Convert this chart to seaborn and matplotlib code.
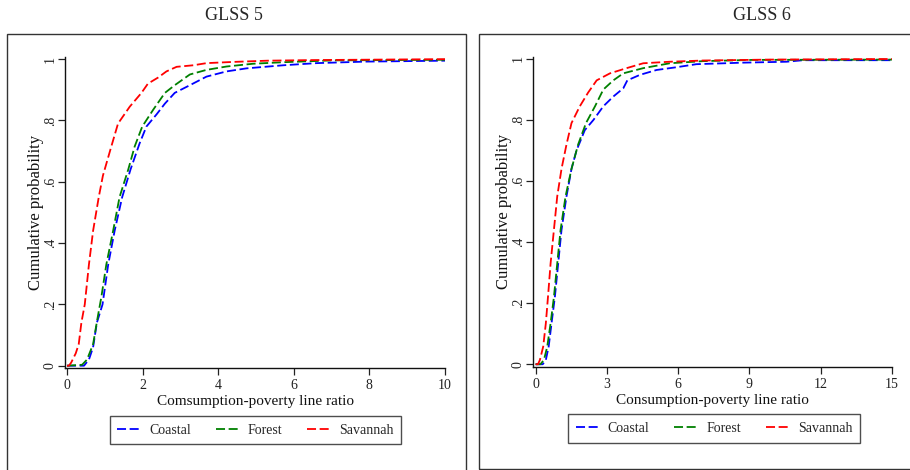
import pandas as pd
import seaborn as sns
import matplotlib.pyplot as plt
from matplotlib.patches import Rectangle

# GLSS 5 - CDF points (ratio, cumulative prob)
g5_coastal_x = [0.0, 0.45, 0.58, 0.69, 0.79, 0.94, 1.09, 1.26, 1.46, 1.68, 1.92, 2.1, 2.37, 2.59,
                2.85, 3.25, 3.69, 4.22, 4.75, 5.72, 6.6, 7.9, 10.0]
g5_coastal_p = [0.0, 0.0, 0.02, 0.06, 0.14, 0.2, 0.33, 0.44, 0.55, 0.64, 0.725, 0.78, 0.82, 0.855,
                0.89, 0.915, 0.943, 0.96, 0.97, 0.98, 0.987, 0.992, 0.995]
g5_forest_x = [0.0, 0.4, 0.53, 0.69, 0.8, 0.91, 1.04, 1.22, 1.39, 1.62, 1.79, 1.99, 2.28, 2.59,
               2.85, 3.25, 3.69, 4.22, 4.92, 5.72, 7.04, 10.0]
g5_forest_p = [0.0, 0.003, 0.02, 0.07, 0.15, 0.225, 0.33, 0.44, 0.55, 0.64, 0.715, 0.78, 0.835, 0.89,
               0.915, 0.95, 0.965, 0.976, 0.985, 0.99, 0.996, 0.998]
g5_savannah_x = [0.0, 0.05, 0.11, 0.23, 0.31, 0.38, 0.47, 0.58, 0.69, 0.84, 0.95, 1.16, 1.35, 1.66,
                 1.97, 2.14, 2.41, 2.63, 2.9, 3.34, 3.69, 4.4, 5.3, 6.5, 10.0]
g5_savannah_p = [0.0, 0.0, 0.01, 0.04, 0.07, 0.14, 0.2, 0.33, 0.44, 0.55, 0.62, 0.71, 0.79, 0.845,
                 0.89, 0.92, 0.94, 0.96, 0.975, 0.98, 0.987, 0.991, 0.995, 0.997, 1.0]

# GLSS 6
g6_coastal_x = [0.0, 0.3, 0.43, 0.55, 0.67, 0.81, 0.95, 1.09, 1.3, 1.51, 1.72, 2.07, 2.43, 2.85,
                3.27, 3.69, 3.86, 4.39, 5.09, 5.93, 6.77, 8.73, 10.56, 11.26, 15.0]
g6_coastal_p = [0.0, 0.0, 0.014, 0.058, 0.134, 0.22, 0.33, 0.44, 0.55, 0.64, 0.70, 0.767, 0.80, 0.845,
                0.877, 0.904, 0.93, 0.948, 0.964, 0.973, 0.983, 0.988, 0.991, 0.996, 0.996]
g6_forest_x = [0.0, 0.2, 0.35, 0.49, 0.63, 0.77, 0.91, 1.05, 1.26, 1.51, 1.79, 2.12, 2.5, 2.85,
               3.27, 3.69, 4.53, 5.65, 7.05, 9.15, 15.0]
g6_forest_p = [0.0, 0.0, 0.014, 0.058, 0.134, 0.22, 0.33, 0.44, 0.55, 0.64, 0.72, 0.79, 0.845, 0.9,
               0.93, 0.953, 0.97, 0.986, 0.993, 0.997, 0.998]
g6_savannah_x = [0.0, 0.1, 0.18, 0.32, 0.43, 0.52, 0.63, 0.77, 0.91, 1.09, 1.3, 1.51, 1.86, 2.21,
                 2.57, 3.13, 3.83, 4.53, 5.65, 7.05, 9.86, 15.0]
g6_savannah_p = [0.0, 0.0, 0.014, 0.058, 0.134, 0.22, 0.33, 0.44, 0.55, 0.64, 0.72, 0.79, 0.845, 0.89,
                 0.93, 0.953, 0.97, 0.986, 0.991, 0.995, 0.998, 1.0]

regions = ['Coastal', 'Forest', 'Savannah']
colors = {'Coastal': '#0000ff', 'Forest': '#008000', 'Savannah': '#ff0000'}
y_ticks = [0, 0.2, 0.4, 0.6, 0.8, 1]
y_labels = ['0', '.2', '.4', '.6', '.8', '1']


def to_df(xs, ps):
    frames = []
    for reg, x, p in zip(regions, xs, ps):
        frames.append(pd.DataFrame({'ratio': x, 'cdf': p, 'region': reg}))
    return pd.concat(frames, ignore_index=True)


df5 = to_df([g5_coastal_x, g5_forest_x, g5_savannah_x], [g5_coastal_p, g5_forest_p, g5_savannah_p])
df6 = to_df([g6_coastal_x, g6_forest_x, g6_savannah_x], [g6_coastal_p, g6_forest_p, g6_savannah_p])


def main() -> None:
    sns.set_theme(style='ticks')
    plt.rcParams['font.family'] = ['Liberation Serif', 'DejaVu Serif']
    W, H = 910, 470
    fig = plt.figure(figsize=(9.1, 4.7), dpi=100)

    # panel frames (pixel coords, y from top)
    for x0, y0, x1, y1 in [(7, 34, 465.5, 472), (478.5, 34, 915, 469)]:
        fig.patches.append(Rectangle((x0 / W, 1 - y1 / H), (x1 - x0) / W, (y1 - y0) / H,
                                     transform=fig.transFigure, fill=False,
                                     edgecolor='#333333', linewidth=1.0))

    fig.text(234 / W, 1 - 16 / H, 'GLSS 5', ha='center', va='center', fontsize=13)
    fig.text(762 / W, 1 - 16 / H, 'GLSS 6', ha='center', va='center', fontsize=13)

    panels = [
        dict(df=df5, rect=(65, 56.7, 445, 368), xlim=(-0.053, 10), xticks=[0, 2, 4, 6, 8, 10],
             ylim=(-0.0075, 1.008), xlabel='Comsumption-poverty line ratio', leg=(255.5, 430)),
        dict(df=df6, rect=(533, 56.7, 892, 366.7), xlim=(-0.11, 15), xticks=[0, 3, 6, 9, 12, 15],
             ylim=(-0.008, 1.0075), xlabel='Consumption-poverty line ratio', leg=(714, 428.5)),
    ]

    for pn in panels:
        x0, y0, x1, y1 = pn['rect']
        ax = fig.add_axes([x0 / W, 1 - y1 / H, (x1 - x0) / W, (y1 - y0) / H])
        sns.lineplot(data=pn['df'], x='ratio', y='cdf', hue='region', hue_order=regions,
                     palette=colors, estimator=None, sort=False, legend=False,
                     linewidth=1.3, linestyle=(0, (5.0, 2.0)), ax=ax)
        ax.set_xlim(*pn['xlim'])
        ax.set_ylim(*pn['ylim'])
        ax.set_xticks(pn['xticks'])
        ax.set_xticklabels([str(t) for t in pn['xticks']])
        ax.set_yticks(y_ticks)
        ax.set_yticklabels(y_labels, rotation=90, va='center')
        ax.tick_params(axis='both', length=5, width=0.9, color='#222222', labelsize=10,
                       labelcolor='#222222')
        ax.tick_params(axis='x', pad=3)
        ax.tick_params(axis='y', pad=1)
        ax.set_xlabel(pn['xlabel'], fontsize=11, labelpad=2, color='#111111')
        ax.set_ylabel('Cumulative probability', fontsize=12, labelpad=0, color='#111111')
        for side in ['top', 'right']:
            ax.spines[side].set_visible(False)
        for side in ['left', 'bottom']:
            ax.spines[side].set_color('#111111')
            ax.spines[side].set_linewidth(1.0)
        ax.set_facecolor('white')

        lx, ly = pn['leg']
        leg = ax.legend(handles=ax.get_lines()[:3], labels=regions, ncol=3, loc='center',
                        bbox_to_anchor=(lx / W, 1 - ly / H), bbox_transform=fig.transFigure,
                        fontsize=10, frameon=True, fancybox=False, handlelength=1.6,
                        columnspacing=1.8, handletextpad=0.7, borderpad=0.55)
        leg.get_frame().set_edgecolor('#222222')
        leg.get_frame().set_linewidth(1.0)

    plt.savefig('out.png', dpi=100)


if __name__ == "__main__":
    main()
